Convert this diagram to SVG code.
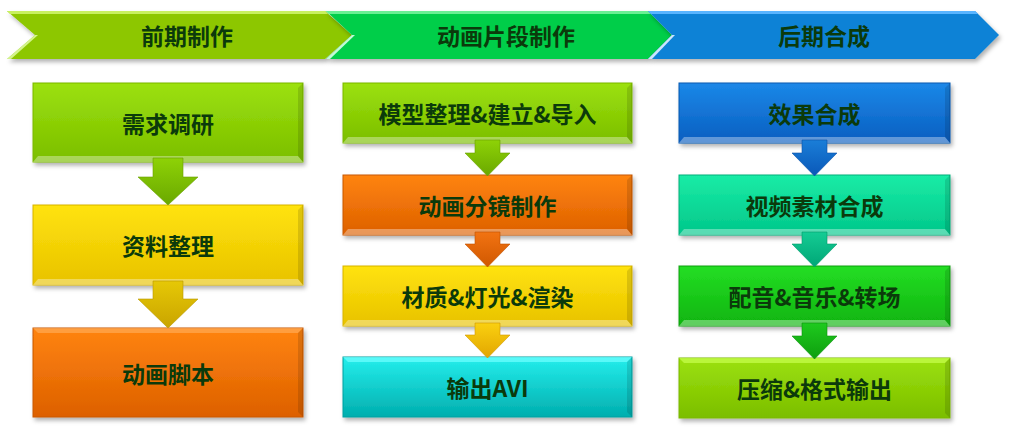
<svg xmlns="http://www.w3.org/2000/svg" width="1009" height="441" viewBox="0 0 1009 441">
<defs>
<style>
.t{font-family:"Noto Sans CJK SC","Noto Sans",sans-serif;font-weight:bold;font-size:23px;fill:#0B3A0B;text-anchor:middle;dominant-baseline:central}
.box{filter:url(#sh)}
.bev{fill:#ffffff;opacity:.35}
.bevd{fill:#000000;opacity:.12}
.chev{filter:url(#sh)}
</style>
<filter id="sh" x="-10%" y="-20%" width="120%" height="150%">
<feDropShadow dx="2" dy="3" stdDeviation="2" flood-color="#000" flood-opacity="0.3"/>
</filter>
<linearGradient id="gLime" x1="0" y1="0" x2="0" y2="1"><stop offset="0" stop-color="#9CE10C"/><stop offset="1" stop-color="#7BBE00"/></linearGradient>
<linearGradient id="gYel" x1="0" y1="0" x2="0" y2="1"><stop offset="0" stop-color="#FFE30C"/><stop offset="1" stop-color="#E8C200"/></linearGradient>
<linearGradient id="gOra" x1="0" y1="0" x2="0" y2="1"><stop offset="0" stop-color="#FF840F"/><stop offset="1" stop-color="#DD6000"/></linearGradient>
<linearGradient id="gCya" x1="0" y1="0" x2="0" y2="1"><stop offset="0" stop-color="#24EEEC"/><stop offset="1" stop-color="#00AEAE"/></linearGradient>
<linearGradient id="gBlu" x1="0" y1="0" x2="0" y2="1"><stop offset="0" stop-color="#1B88E8"/><stop offset="1" stop-color="#0A5EC0"/></linearGradient>
<linearGradient id="gMin" x1="0" y1="0" x2="0" y2="1"><stop offset="0" stop-color="#1AECA6"/><stop offset="1" stop-color="#00C78A"/></linearGradient>
<linearGradient id="gGrn" x1="0" y1="0" x2="0" y2="1"><stop offset="0" stop-color="#24DE24"/><stop offset="1" stop-color="#0FB40F"/></linearGradient>
<linearGradient id="aLime" x1="0" y1="0" x2="0" y2="1"><stop offset="0" stop-color="#8ED206"/><stop offset="1" stop-color="#6AA800"/></linearGradient>
<linearGradient id="aYel" x1="0" y1="0" x2="0" y2="1"><stop offset="0" stop-color="#E6C806"/><stop offset="1" stop-color="#C9A400"/></linearGradient>
<linearGradient id="aGold" x1="0" y1="0" x2="0" y2="1"><stop offset="0" stop-color="#FAD010"/><stop offset="1" stop-color="#E2A600"/></linearGradient>
<linearGradient id="aOra" x1="0" y1="0" x2="0" y2="1"><stop offset="0" stop-color="#F27312"/><stop offset="1" stop-color="#D05800"/></linearGradient>
<linearGradient id="aBlu" x1="0" y1="0" x2="0" y2="1"><stop offset="0" stop-color="#1A7ED8"/><stop offset="1" stop-color="#0A58B8"/></linearGradient>
<linearGradient id="aMin" x1="0" y1="0" x2="0" y2="1"><stop offset="0" stop-color="#14CC94"/><stop offset="1" stop-color="#00A676"/></linearGradient>
<linearGradient id="aGrn" x1="0" y1="0" x2="0" y2="1"><stop offset="0" stop-color="#1ECA1E"/><stop offset="1" stop-color="#0E9E0E"/></linearGradient>
</defs>
<rect width="1009" height="441" fill="#ffffff"/>

<g id="stage-1">
<polygon class="chev" points="7,11 325,11 352,35 325,59 7,59 35,35" fill="#8DC705"/>
<polygon points="7,11 325,11 328,14 10,14" fill="#C8F060"/>
<polygon points="7,59 35,35 38,35 11,59" fill="#E6FFB0" opacity=".8"/>
<text class="t" x="187" y="35">前期制作</text>
</g>
<g id="stage-2">
<polygon class="chev" points="326,11 648,11 672,35 648,59 326,59 352,35" fill="#06CE4A"/>
<polygon points="326,11 648,11 651,14 329,14" fill="#6AF094"/>
<polygon points="326,59 352,35 355,35 330,59" fill="#D8FFE4" opacity=".9"/>
<text class="t" x="506" y="35">动画片段制作</text>
</g>
<g id="stage-3">
<polygon class="chev" points="648,11 975,11 999,35 975,59 648,59 672,35" fill="#0A82D6"/>
<polygon points="648,11 975,11 978,14 651,14" fill="#58B4FF"/>
<polygon points="648,59 672,35 675,35 652,59" fill="#E0F0FF" opacity=".9"/>
<text class="t" x="824" y="35">后期合成</text>
</g>

<g id="n-xqdy">
<rect class="box" x="33" y="83" width="270" height="79" fill="url(#gLime)" stroke="#7AB800" stroke-width="1"/>
<polygon class="bev" points="33,162 303,162 298,156 38,156"/><polygon class="bevd" points="303,83 303,162 298,156 298,88"/>
<text class="t" x="168" y="123">需求调研</text>
</g>
<g id="n-zlzl">
<rect class="box" x="33" y="205" width="270" height="80" fill="url(#gYel)" stroke="#D8B400" stroke-width="1"/>
<polygon class="bev" points="33,285 303,285 298,279 38,279"/><polygon class="bevd" points="303,205 303,285 298,279 298,210"/>
<text class="t" x="168" y="245">资料整理</text>
</g>
<g id="n-dhjb">
<rect class="box" x="33" y="328" width="270" height="89" fill="url(#gOra)" stroke="#C85800" stroke-width="1"/>
<polygon points="33,328 303,328 298,333 38,333" fill="#FFB060" opacity=".6"/><polygon class="bevd" points="303,328 303,417 298,412 298,333"/>
<text class="t" x="168" y="373">动画脚本</text>
</g>

<g id="n-mx">
<rect class="box" x="343" y="83" width="289" height="60" fill="url(#gLime)" stroke="#7AB800" stroke-width="1"/>
<polygon class="bev" points="343,143 632,143 627,137 348,137"/><polygon class="bevd" points="632,83 632,143 627,137 627,88"/>
<text class="t" x="487.5" y="113">模型整理&amp;建立&amp;导入</text>
</g>
<g id="n-fj">
<rect class="box" x="343" y="175" width="289" height="60" fill="url(#gOra)" stroke="#C85800" stroke-width="1"/>
<polygon class="bev" points="343,235 632,235 627,229 348,229"/><polygon class="bevd" points="632,175 632,235 627,229 627,180"/>
<text class="t" x="487.5" y="205">动画分镜制作</text>
</g>
<g id="n-cz">
<rect class="box" x="343" y="266" width="289" height="60" fill="url(#gYel)" stroke="#D8B400" stroke-width="1"/>
<polygon class="bev" points="343,326 632,326 627,320 348,320"/><polygon class="bevd" points="632,266 632,326 627,320 627,271"/>
<text class="t" x="487.5" y="296">材质&amp;灯光&amp;渲染</text>
</g>
<g id="n-avi">
<rect class="box" x="343" y="357" width="289" height="60" fill="url(#gCya)" stroke="#00A0A0" stroke-width="1"/>
<polygon points="343,357 632,357 627,362 348,362" fill="#70FFFF" opacity=".7"/><polygon class="bevd" points="632,357 632,417 627,412 627,362"/>
<text class="t" x="487.5" y="387">输出AVI</text>
</g>

<g id="n-xg">
<rect class="box" x="679" y="83" width="271" height="60" fill="url(#gBlu)" stroke="#0A58B0" stroke-width="1"/>
<polygon class="bev" points="679,143 950,143 945,137 684,137"/><polygon class="bevd" points="950,83 950,143 945,137 945,88"/>
<text class="t" x="814.5" y="113">效果合成</text>
</g>
<g id="n-sp">
<rect class="box" x="679" y="175" width="271" height="60" fill="url(#gMin)" stroke="#00B07A" stroke-width="1"/>
<polygon class="bev" points="679,235 950,235 945,229 684,229"/><polygon class="bevd" points="950,175 950,235 945,229 945,180"/>
<text class="t" x="814.5" y="205">视频素材合成</text>
</g>
<g id="n-py">
<rect class="box" x="679" y="266" width="271" height="60" fill="url(#gGrn)" stroke="#0EA00E" stroke-width="1"/>
<polygon class="bev" points="679,326 950,326 945,320 684,320"/><polygon class="bevd" points="950,266 950,326 945,320 945,271"/>
<text class="t" x="814.5" y="296">配音&amp;音乐&amp;转场</text>
</g>
<g id="n-ys">
<rect class="box" x="679" y="358" width="271" height="60" fill="url(#gLime)" stroke="#7AB800" stroke-width="1"/>
<polygon points="679,358 950,358 945,363 684,363" fill="#C8FF50" opacity=".7"/><polygon class="bevd" points="950,358 950,418 945,413 945,363"/>
<text class="t" x="814.5" y="388">压缩&amp;格式输出</text>
</g>

<g id="connectors">
<path d="M153,158 H183 V177 H198 L168,205 L138,177 H153 Z" fill="url(#aLime)" stroke="#6AA000" stroke-width=".6"/>
<path d="M153,281 H183 V299 H198 L168,328 L138,299 H153 Z" fill="url(#aYel)" stroke="#B89800" stroke-width=".6"/>
<path d="M475,140 H500 V153 H510 L487.5,176 L465,153 H475 Z" fill="url(#aLime)" stroke="#6AA000" stroke-width=".6"/>
<path d="M475,232 H500 V244 H510 L487.5,267 L465,244 H475 Z" fill="url(#aOra)" stroke="#C05000" stroke-width=".6"/>
<path d="M475,323 H500 V335 H510 L487.5,358 L465,335 H475 Z" fill="url(#aGold)" stroke="#D09800" stroke-width=".6"/>
<path d="M802,140 H827 V153 H837 L814.5,176 L792,153 H802 Z" fill="url(#aBlu)" stroke="#0A50A8" stroke-width=".6"/>
<path d="M802,232 H827 V244 H837 L814.5,267 L792,244 H802 Z" fill="url(#aMin)" stroke="#009A6A" stroke-width=".6"/>
<path d="M802,323 H827 V336 H837 L814.5,359 L792,336 H802 Z" fill="url(#aGrn)" stroke="#0A900A" stroke-width=".6"/>
</g>
</svg>
